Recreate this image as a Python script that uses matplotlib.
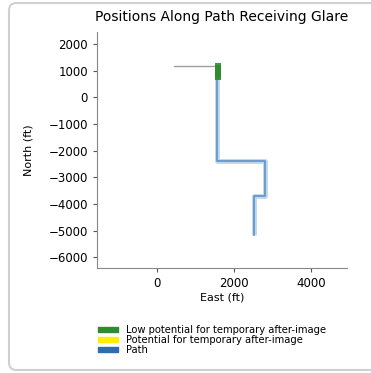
import numpy as np
import matplotlib
matplotlib.use("Agg")
import matplotlib.pyplot as plt
from matplotlib.patches import Patch, FancyBboxPatch

# path vertices (east, north) in ft
path_east = [1560, 1560, 2800, 2800, 2520, 2520]
path_north = [1170, -2400, -2400, -3700, -3700, -5150]

# approach segment without glare
approach_east = [450, 1600]
approach_north = [1170, 1170]

# glare points (low potential)
glare_east = [1590, 1590, 1590, 1590, 1590, 1590]
glare_north = [1170, 1090, 1010, 930, 850, 780]

legend_labels = ["Low potential for temporary after-image",
                 "Potential for temporary after-image",
                 "Path"]
legend_colors = ["#2e8b2e", "#ffee00", "#2f6db3"]

fig = plt.figure(figsize=(3.71, 3.73), dpi=100)
ax = fig.add_axes([97 / 371, 1 - 268 / 373, 250 / 371, 236 / 373])

ax.plot(approach_east, approach_north, color="#777777", lw=1, alpha=0.7)
ax.plot(path_east, path_north, color="#6fa8dc", lw=3.5, alpha=0.45,
        solid_capstyle="butt")
ax.plot(path_east, path_north, color="#3a75b0", lw=1.3, alpha=0.65)
ax.scatter(glare_east, glare_north, color="#2e8b2e", s=14, marker="s",
           zorder=3, alpha=0.9, linewidths=0)

ax.set_xlim(-1560, 4940)
ax.set_ylim(-6400, 2450)
ax.set_xticks([0, 2000, 4000])
ax.set_yticks([2000, 1000, 0, -1000, -2000, -3000, -4000, -5000, -6000])
ax.tick_params(labelsize=8.5, length=3, color="#555555")
for s in ["top", "right"]:
    ax.spines[s].set_visible(False)
for s in ["left", "bottom"]:
    ax.spines[s].set_color("#888888")
ax.set_title("Positions Along Path Receiving Glare", fontsize=10, pad=8)
ax.set_xlabel("East (ft)", fontsize=8, labelpad=2)
ax.yaxis.set_label_coords(-0.255, 0.57)
ax.set_ylabel("North (ft)", fontsize=8)

handles = [Patch(color=c, label=l) for c, l in zip(legend_colors, legend_labels)]
fig.legend(handles=handles, loc="upper left", bbox_to_anchor=(94 / 371, 1 - 321 / 373),
           frameon=False, fontsize=7.2, handlelength=2.0, handleheight=0.4,
           labelspacing=0.0, handletextpad=0.8, borderaxespad=0)

frame = FancyBboxPatch((9 / 371, 3 / 373), 1.2, 367 / 373,
                       boxstyle="round,pad=0,rounding_size=0.02",
                       transform=fig.transFigure, fill=False,
                       edgecolor="#d0d0d0", lw=1.5)
fig.add_artist(frame)

fig.savefig("out.png", dpi=100)
